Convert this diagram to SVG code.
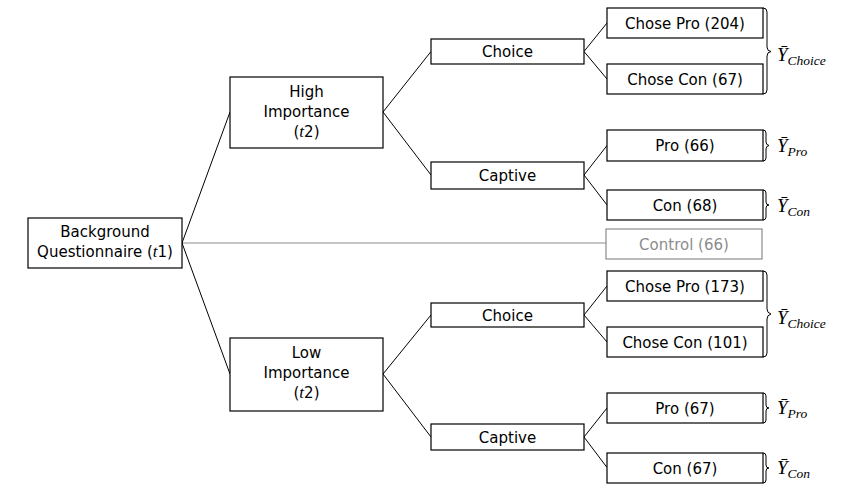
<svg xmlns="http://www.w3.org/2000/svg" width="845" height="495" viewBox="0 0 845 495">
<style>
.box{fill:#fff;stroke:#000;stroke-width:1.2}
.gbox{fill:#fff;stroke:#8c8c8c;stroke-width:1.2}
.t{font-family:"DejaVu Sans","Liberation Sans",sans-serif;font-size:15px;text-anchor:middle;fill:#000}
.g{fill:#8c8c8c}
.m{font-family:"Liberation Serif",serif;font-style:italic;font-size:17px}
.e{stroke:#000;stroke-width:1;fill:none}
.ge{stroke:#8c8c8c;stroke-width:1;fill:none}
.br{stroke:#000;stroke-width:1;fill:none}
.lab{font-family:"Liberation Serif",serif;font-style:italic;font-size:19px;fill:#000}
.sub{font-size:13.5px}
</style>
<g id="connectors">
<line class="ge" x1="182" y1="243" x2="606" y2="243"/>
<line class="e" x1="182" y1="243" x2="230" y2="112"/>
<line class="e" x1="182" y1="243" x2="230" y2="374"/>
<line class="e" x1="383" y1="112" x2="431" y2="51.5"/>
<line class="e" x1="383" y1="112" x2="431" y2="175"/>
<line class="e" x1="383" y1="374" x2="431" y2="315"/>
<line class="e" x1="383" y1="374" x2="431" y2="437"/>
<line class="e" x1="584" y1="51.5" x2="607" y2="23"/>
<line class="e" x1="584" y1="51.5" x2="607" y2="79"/>
<line class="e" x1="584" y1="175" x2="607" y2="145.5"/>
<line class="e" x1="584" y1="175" x2="607" y2="205"/>
<line class="e" x1="584" y1="315" x2="607" y2="286"/>
<line class="e" x1="584" y1="315" x2="607" y2="342"/>
<line class="e" x1="584" y1="437" x2="607" y2="408"/>
<line class="e" x1="584" y1="437" x2="607" y2="467.5"/>
</g>
<g id="bg"><rect class="box" x="28" y="218" width="154" height="50"/>
<text class="t" x="105" y="237">Background</text>
<text class="t" x="105" y="257">Questionnaire (<tspan class="m">t</tspan>1)</text></g>
<g id="high"><rect class="box" x="230" y="77" width="153" height="71"/>
<text class="t" x="306.5" y="97">High</text>
<text class="t" x="306.5" y="117">Importance</text>
<text class="t" x="306.5" y="137">(<tspan class="m">t</tspan>2)</text></g>
<g id="low"><rect class="box" x="230" y="338" width="153" height="73"/>
<text class="t" x="306.5" y="358">Low</text>
<text class="t" x="306.5" y="378">Importance</text>
<text class="t" x="306.5" y="398">(<tspan class="m">t</tspan>2)</text></g>
<g id="choice1"><rect class="box" x="431" y="39" width="153" height="25"/>
<text class="t" x="507.5" y="57">Choice</text></g>
<g id="captive1"><rect class="box" x="431" y="162" width="153" height="27"/>
<text class="t" x="507.5" y="181">Captive</text></g>
<g id="choice2"><rect class="box" x="431" y="303" width="153" height="24"/>
<text class="t" x="507.5" y="320.5">Choice</text></g>
<g id="captive2"><rect class="box" x="431" y="424" width="153" height="26"/>
<text class="t" x="507.5" y="442.5">Captive</text></g>
<g id="cp204"><rect class="box" x="607" y="8" width="156" height="30"/>
<text class="t" x="685" y="28.5">Chose Pro (204)</text></g>
<g id="cc67"><rect class="box" x="607" y="64" width="156" height="30"/>
<text class="t" x="685" y="84.5">Chose Con (67)</text></g>
<g id="pro66"><rect class="box" x="607" y="130" width="156" height="31"/>
<text class="t" x="685" y="150.5">Pro (66)</text></g>
<g id="con68"><rect class="box" x="607" y="190" width="156" height="30"/>
<text class="t" x="685" y="210.5">Con (68)</text></g>
<g id="control"><rect class="gbox" x="606" y="229" width="156" height="30"/>
<text class="t g" x="684" y="249.5">Control (66)</text></g>
<g id="cp173"><rect class="box" x="607" y="271" width="156" height="30"/>
<text class="t" x="685" y="291.5">Chose Pro (173)</text></g>
<g id="cc101"><rect class="box" x="607" y="327" width="156" height="30"/>
<text class="t" x="685" y="347.5">Chose Con (101)</text></g>
<g id="pro67"><rect class="box" x="607" y="393" width="156" height="30"/>
<text class="t" x="685" y="413.5">Pro (67)</text></g>
<g id="con67"><rect class="box" x="607" y="453" width="156" height="30"/>
<text class="t" x="685" y="473.5">Con (67)</text></g>
<g id="braces">
<path class="br" d="M763,8 q4,0 4,4 v35 q0,4 4,4.5 q-4,0.5 -4,4.5 v34 q0,4 -4,4"/>
<path class="br" d="M763,130 q3,0 3,3 v9 q0,3 3,3.5 q-3,0.5 -3,3.5 v9 q0,3 -3,3"/>
<path class="br" d="M763,190 q3,0 3,3 v9 q0,3 3,3 q-3,0 -3,3 v9 q0,3 -3,3"/>
<path class="br" d="M763,271 q4,0 4,4 v34 q0,4 4,5 q-4,1 -4,5 v34 q0,4 -4,4"/>
<path class="br" d="M763,393 q3,0 3,3 v9 q0,3 3,3 q-3,0 -3,3 v9 q0,3 -3,3"/>
<path class="br" d="M763,453 q3,0 3,3 v9 q0,3 3,3 q-3,0 -3,3 v9 q0,3 -3,3"/>
</g>
<g id="labels">
<text class="lab" x="777" y="61">Ȳ<tspan class="sub" dy="4">Choice</tspan></text>
<text class="lab" x="777" y="152">Ȳ<tspan class="sub" dy="4">Pro</tspan></text>
<text class="lab" x="777" y="212">Ȳ<tspan class="sub" dy="4">Con</tspan></text>
<text class="lab" x="777" y="324">Ȳ<tspan class="sub" dy="4">Choice</tspan></text>
<text class="lab" x="777" y="414">Ȳ<tspan class="sub" dy="4">Pro</tspan></text>
<text class="lab" x="777" y="474">Ȳ<tspan class="sub" dy="4">Con</tspan></text>
</g>
</svg>
